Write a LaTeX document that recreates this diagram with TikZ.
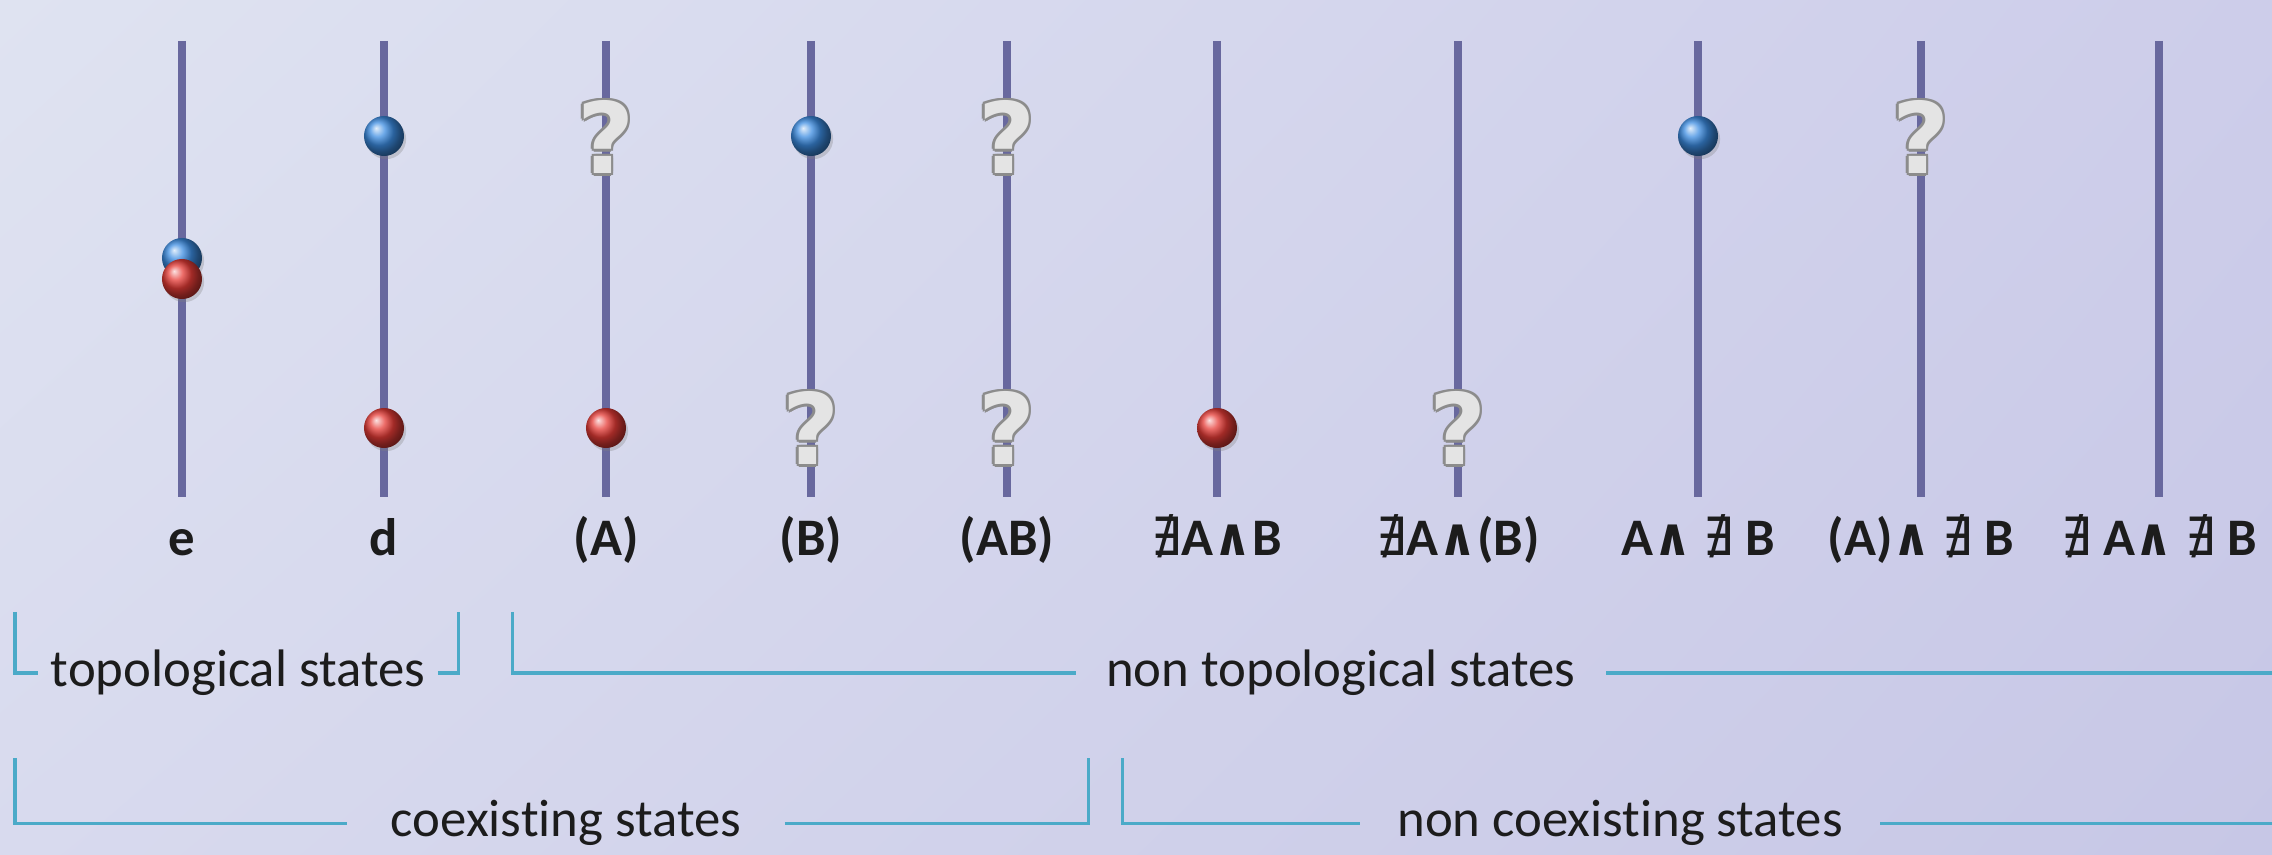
\documentclass[tikz,border=0pt]{standalone}
\usepackage{fontspec}
\setmainfont{Carlito}[Ligatures=NoCommon]
\newfontfamily\symfont{DejaVu Sans Condensed}
\newfontfamily\qfont{DejaVu Sans}
\usetikzlibrary{shadows,shadings}
\definecolor{bgA}{RGB}{223,227,241}
\definecolor{bgB}{RGB}{205,205,234}
\definecolor{bgC}{RGB}{216,218,238}
\definecolor{bgD}{RGB}{199,199,230}
\definecolor{rodcol}{RGB}{104,104,158}
\definecolor{brkcol}{RGB}{75,170,200}
\definecolor{qedge}{RGB}{140,140,140}
\definecolor{qface}{RGB}{228,228,228}
\definecolor{ballblue}{RGB}{60,140,225}
\definecolor{ballred}{RGB}{230,60,55}
\definecolor{txt}{RGB}{28,28,28}
\newcommand{\nex}{{\symfont\mdseries ∄}}
\newcommand{\wed}{{\symfont\bfseries ∧}}
\tikzset{
  rod/.style={draw=rodcol,line width=0.08cm},
  ball/.style={circle,inner sep=0pt,minimum size=0.4cm,shading=ball,ball color=#1,
    drop shadow={opacity=.3,shadow xshift=.6pt,shadow yshift=-.9pt}},
  qm/.style={inner sep=0pt,font=\qfont\fontsize{28}{28}\bfseries\selectfont},
  lab/.style={inner sep=0pt,text=txt,font=\fontsize{15}{18}\bfseries\selectfont},
  grp/.style={inner ysep=2pt,text=txt,font=\fontsize{15}{18}\selectfont},
  brk/.style={draw=brkcol,line width=0.03cm}
}
% question mark with a grey rim
\newcommand{\qmark}[3]{%
  \foreach \a in {0,45,...,315}
    \node[qm,text=qedge] at ([shift={(\a:2.5)}]#2,#3) {?};
  \node[qm,text=qface] (#1) at (#2,#3) {?};
}
\begin{document}
\begin{tikzpicture}[x=0.01cm,y=-0.01cm]
\useasboundingbox (0,0) rectangle (2272,855);
\shade[upper left=bgA,upper right=bgB,lower left=bgC,lower right=bgD] (0,0) rectangle (2272,855);

% rods and their labels
\foreach \i/\x/\lab in {1/182/e, 2/384/d, 3/606/{(A)}, 4/811/{(B)}, 5/1007/{(AB)},
    6/1217/{\nex A\wed B}, 7/1458/{\nex A\wed(B)}, 8/1698/{A\wed\ \nex\ B},
    9/1921/{(A)\wed\ \nex\ B}, 10/2159/{\nex\ A\wed\ \nex\ B}}{
  \coordinate (t\i) at (\x,41);
  \coordinate (u\i) at (\x,497);
  \draw[rod] (t\i) -- (u\i);
  \node[lab,anchor=base] (l\i) at (\x,556) {\lab};
}

% particles
\node[ball=ballblue] (b1) at (182,258) {};
\node[ball=ballred]  (r1) at (182,279) {};
\node[ball=ballblue] (b2) at (384,136) {};
\node[ball=ballred]  (r2) at (384,428) {};
\node[ball=ballred]  (r3) at (606,428) {};
\node[ball=ballblue] (b4) at (811,136) {};
\node[ball=ballred]  (r6) at (1217,428) {};
\node[ball=ballblue] (b8) at (1698,136) {};

% unknown positions
\qmark{q3}{606}{137}
\qmark{q4}{811}{428}
\qmark{q5a}{1007}{137}
\qmark{q5b}{1007}{428}
\qmark{q7}{1458}{428}
\qmark{q9}{1921}{137}

% groupings
\node[grp,inner xsep=0.12cm] (topo) at (238,673) {topological states};
\node[grp,inner xsep=0.3cm] (ntopo) at (1341,673) {non topological states};
\node[grp,inner xsep=0.43cm] (coex) at (566,823) {coexisting states};
\node[grp,inner xsep=0.37cm] (ncoex) at (1620,823) {non coexisting states};

\coordinate (k1) at (15,612);
\coordinate (k2) at (458,612);
\coordinate (k3) at (512,612);
\coordinate (k4) at (2272,673);
\coordinate (k5) at (15,758);
\coordinate (k6) at (1088,758);
\coordinate (k7) at (1122,758);
\coordinate (k8) at (2272,823);

\draw[brk] (k1) |- (topo.west);
\draw[brk] (topo.east) -| (k2);
\draw[brk] (k3) |- (ntopo.west);
\draw[brk] (ntopo.east) -- (k4);
\draw[brk] (k5) |- (coex.west);
\draw[brk] (coex.east) -| (k6);
\draw[brk] (k7) |- (ncoex.west);
\draw[brk] (ncoex.east) -- (k8);
\end{tikzpicture}
\end{document}
